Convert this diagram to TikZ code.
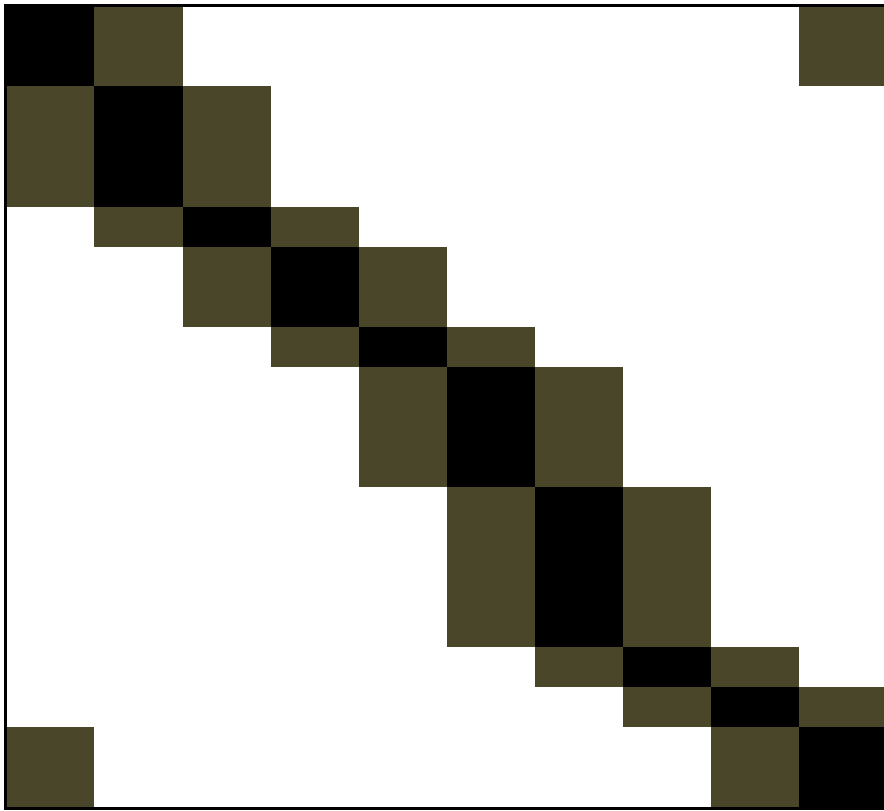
\documentclass[tikz,border=0pt]{standalone}
\usepackage{xcolor}
\definecolor{bandolive}{RGB}{74,70,42}

\begin{document}
\begin{tikzpicture}[x=1pt,y=-1pt,
  diagblock/.style={fill=black},
  bandblock/.style={fill=bandolive},
  frameline/.style={draw=black,line width=3pt}]
\useasboundingbox (0,0) rectangle (884,811);
% block edges: columns and rows
\def\colx{{5,94,183,271,359,447,535,623,711,799,884}}
\def\rowy{{6,86,207,247,327,367,487,647,687,727,808}}
% diagonal blocks
\foreach \r in {1,...,10}{
  \pgfmathsetmacro{\xa}{\colx[\r-1]}\pgfmathsetmacro{\xb}{\colx[\r]}
  \pgfmathsetmacro{\ya}{\rowy[\r-1]}\pgfmathsetmacro{\yb}{\rowy[\r]}
  \fill[diagblock] (\xa,\ya) rectangle (\xb,\yb);
}
% off-diagonal blocks, including the two corner blocks
\foreach \c/\r in {2/1,3/2,4/3,5/4,6/5,7/6,8/7,9/8,10/9,
                   1/2,2/3,3/4,4/5,5/6,6/7,7/8,8/9,9/10,
                   10/1,1/10}{
  \pgfmathsetmacro{\xa}{\colx[\c-1]}\pgfmathsetmacro{\xb}{\colx[\c]}
  \pgfmathsetmacro{\ya}{\rowy[\r-1]}\pgfmathsetmacro{\yb}{\rowy[\r]}
  \fill[bandblock] (\xa,\ya) rectangle (\xb,\yb);
}
% frame
\draw[frameline] (884,5) -- (5,5) -- (5,808) -- (884,808);
\end{tikzpicture}
\end{document}
